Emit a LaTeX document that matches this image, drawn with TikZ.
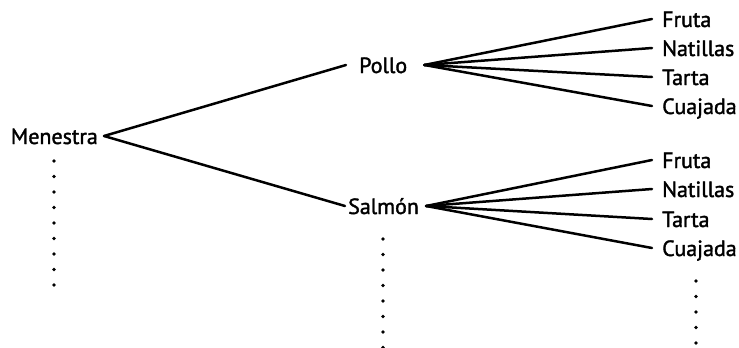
\documentclass[tikz,border=0pt]{standalone}
\usepackage{fontspec}
\setmainfont{PT Sans}[FakeBold=1.6]
\begin{document}
\begin{tikzpicture}[x=1pt,y=-1pt,
  lbl/.style={inner xsep=0pt,inner ysep=0pt,text height=16pt,text depth=0pt,
    font=\fontsize{22}{24}\selectfont},
  branch/.style={line width=2.5pt,line cap=round},
  vdot/.style={fill=black}]
\useasboundingbox (0,0) rectangle (739,348);

% first course, second courses, desserts
\node[lbl,anchor=base east] (menestra) at (98,144) {Menestra};
\node[lbl,anchor=base west] (pollo) at (359,73) {Pollo};
\node[lbl,anchor=base west] (salmon) at (348,214) {Salmón};

\node[lbl,anchor=base west] (pf) at (662,27) {Fruta};
\node[lbl,anchor=base west] (pn) at (662,56) {Natillas};
\node[lbl,anchor=base west] (pt) at (662,85) {Tarta};
\node[lbl,anchor=base west] (pc) at (662,114) {Cuajada};

\node[lbl,anchor=base west] (sf) at (662,168) {Fruta};
\node[lbl,anchor=base west] (sn) at (662,197) {Natillas};
\node[lbl,anchor=base west] (st) at (662,227) {Tarta};
\node[lbl,anchor=base west] (sc) at (662,256) {Cuajada};

% branches
\draw[branch] ([xshift=6pt]menestra.east) -- ([xshift=-13pt]pollo.west);
\draw[branch] ([xshift=6pt]menestra.east) -- ([xshift=-3pt]salmon.west);
\foreach \d in {pf,pn,pt,pc}
  \draw[branch] ([xshift=17pt]pollo.east) -- ([xshift=-10pt]\d.west);
\foreach \d in {sf,sn,st,sc}
  \draw[branch] ([xshift=7pt]salmon.east) -- ([xshift=-10pt]\d.west);

% continuation dots
\foreach \i in {0,...,8}
  \fill[vdot] (54,161+15.5*\i) circle (1.8);
\foreach \i in {0,...,7}
  \fill[vdot] (383,239+15.5*\i) circle (1.8);
\foreach \i in {0,...,4}
  \fill[vdot] (696,281+15.5*\i) circle (1.8);
\end{tikzpicture}
\end{document}
